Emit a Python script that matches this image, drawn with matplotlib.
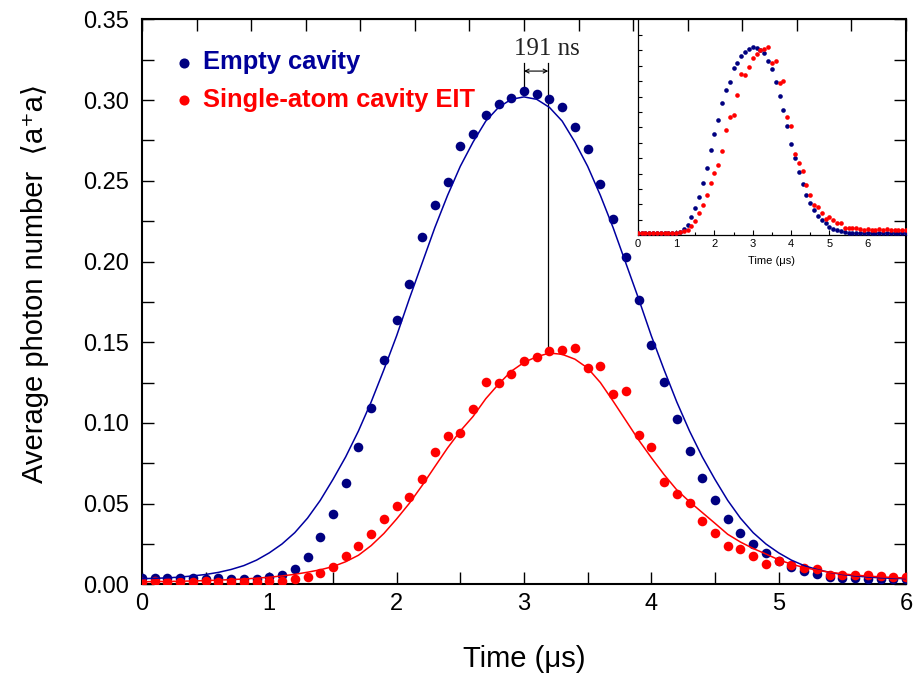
import numpy as np
import matplotlib
matplotlib.use("Agg")
import matplotlib.pyplot as plt
from matplotlib.ticker import MultipleLocator, FormatStrFormatter

plt.rcParams['font.family'] = ['Liberation Sans', 'DejaVu Sans']

# measured photon number, 100 ns bins
time = np.round(np.arange(0, 7.05, 0.1), 1)
empty_pts = np.array([
    0.0040, 0.0038, 0.0040, 0.0037, 0.0038, 0.0036, 0.0037, 0.0035, 0.0036, 0.0036,
    0.0045, 0.0060, 0.0098, 0.0172, 0.0295, 0.0436, 0.0626, 0.0851, 0.1090, 0.1390,
    0.1636, 0.1860, 0.2150, 0.2350, 0.2490, 0.2716, 0.2790, 0.2906, 0.2976, 0.3015,
    0.3054, 0.3036, 0.3007, 0.2959, 0.2831, 0.2700, 0.2480, 0.2263, 0.2030, 0.1763,
    0.1483, 0.1255, 0.1022, 0.0826, 0.0659, 0.0522, 0.0405, 0.0316, 0.0248, 0.0194,
    0.0142, 0.0109, 0.0080, 0.0062, 0.0047, 0.0041, 0.0037, 0.0036, 0.0035, 0.0035,
    0.0034, 0.0035, 0.0033, 0.0034, 0.0035, 0.0033, 0.0034, 0.0035, 0.0034, 0.0033, 0.0034])
eit_pts = np.array([
    0.0015, 0.0018, 0.0015, 0.0017, 0.0016, 0.0018, 0.0016, 0.0017, 0.0016, 0.0017,
    0.0018, 0.0022, 0.0030, 0.0044, 0.0072, 0.0108, 0.0173, 0.0237, 0.0310, 0.0407,
    0.0485, 0.0543, 0.0652, 0.0820, 0.0917, 0.0937, 0.1089, 0.1256, 0.1247, 0.1306,
    0.1382, 0.1408, 0.1443, 0.1450, 0.1466, 0.1338, 0.1352, 0.1181, 0.1196, 0.0923,
    0.0851, 0.0632, 0.0561, 0.0504, 0.0391, 0.0316, 0.0237, 0.0219, 0.0175, 0.0127,
    0.0142, 0.0122, 0.0099, 0.0093, 0.0060, 0.0060, 0.0058, 0.0058, 0.0051, 0.0043,
    0.0047, 0.0045, 0.0040, 0.0048, 0.0044, 0.0047, 0.0043, 0.0041, 0.0045, 0.0042, 0.0044])

# simulated curves
fit_time = np.round(np.arange(0, 6.05, 0.1), 1)
empty_fit = np.array([
    0.0035, 0.0037, 0.0040, 0.0045, 0.0052, 0.0061, 0.0074, 0.0092, 0.0116, 0.0150,
    0.0195, 0.0250, 0.0320, 0.0410, 0.0520, 0.0650, 0.0790, 0.0950, 0.1130, 0.1330,
    0.1540, 0.1770, 0.1990, 0.2210, 0.2410, 0.2590, 0.2740, 0.2870, 0.2955, 0.3005,
    0.3020, 0.3005, 0.2955, 0.2870, 0.2740, 0.2590, 0.2410, 0.2210, 0.1990, 0.1770,
    0.1540, 0.1330, 0.1130, 0.0950, 0.0790, 0.0650, 0.0520, 0.0410, 0.0320, 0.0250,
    0.0195, 0.0150, 0.0116, 0.0092, 0.0074, 0.0061, 0.0052, 0.0045, 0.0040, 0.0037, 0.0035])
eit_fit = np.array([
    0.0016, 0.0017, 0.0018, 0.0019, 0.0021, 0.0023, 0.0026, 0.0029, 0.0033, 0.0038,
    0.0044, 0.0052, 0.0062, 0.0075, 0.0090, 0.0110, 0.0140, 0.0180, 0.0240, 0.0315,
    0.0405, 0.0502, 0.0612, 0.0729, 0.0845, 0.0950, 0.1040, 0.1150, 0.1240, 0.1320,
    0.1375, 0.1410, 0.1433, 0.1425, 0.1395, 0.1340, 0.1250, 0.1135, 0.1015, 0.0895,
    0.0785, 0.0680, 0.0585, 0.0512, 0.0445, 0.0378, 0.0310, 0.0262, 0.0222, 0.0188,
    0.0152, 0.0125, 0.0104, 0.0088, 0.0075, 0.0065, 0.0057, 0.0051, 0.0046, 0.0042, 0.0039])

delay_ns = 191
labels = ['Empty cavity', 'Single-atom cavity EIT']

navy = '#000080'
blue_line = '#0000a0'
blue_text = '#00009a'
red = '#ff0000'

fig = plt.figure(figsize=(9.13, 6.77), dpi=100)
ax = fig.add_axes([0.1555, 0.1369, 0.8368, 0.8344])

ax.scatter(time, empty_pts, s=48, color=navy, lw=0, zorder=3, label=labels[0])
ax.scatter(time, eit_pts, s=48, color=red, lw=0, zorder=4, label=labels[1])
ax.plot(fit_time, empty_fit, color=blue_line, lw=1.1, zorder=5)
ax.plot(fit_time, eit_fit, color=red, lw=1.1, zorder=5)

# peak delay marker
t_blue = fit_time[np.argmax(empty_fit)]
t_red = t_blue + delay_ns / 1000.0
y_top = 0.323
ax.plot([t_blue, t_blue], [empty_pts.max(), y_top], color='k', lw=0.9, zorder=2)
ax.plot([t_red, t_red], [eit_fit.max(), y_top], color='k', lw=0.9, zorder=2)
ax.annotate('', xy=(t_blue, 0.318), xytext=(t_red, 0.318),
            arrowprops=dict(arrowstyle='<->', color='k', lw=0.8,
                            shrinkA=0, shrinkB=0, mutation_scale=7))
ax.text(3.18, 0.328, f'{delay_ns} ns', family=['Liberation Serif', 'DejaVu Serif'],
        fontsize=18, ha='center', va='baseline', color='#222222')

ax.set_xlim(0, 6)
ax.set_ylim(0, 0.35)
ax.xaxis.set_major_locator(MultipleLocator(1))
ax.xaxis.set_minor_locator(MultipleLocator(0.5))
ax.yaxis.set_major_locator(MultipleLocator(0.05))
ax.yaxis.set_minor_locator(MultipleLocator(0.025))
ax.yaxis.set_major_formatter(FormatStrFormatter('%.2f'))
ax.tick_params(which='both', direction='in', length=8.6, width=1.0,
               right=True, top=False, labelsize=17)
ax.tick_params(axis='y', pad=9)
ax.tick_params(axis='x', pad=6.5)
for s in ax.spines.values():
    s.set_linewidth(1.5)

top = ax.secondary_xaxis('top', functions=(lambda x: x * 7 / 6, lambda x: x * 6 / 7))
top.xaxis.set_major_locator(MultipleLocator(0.5))
top.tick_params(direction='in', length=8.6, width=1.0, labeltop=False)

ax.set_xlabel('Time (μs)', fontsize=21, labelpad=21)
ax.set_ylabel('Average photon number  \u27e8a\u207aa\u27e9', fontsize=21)
ax.yaxis.set_label_coords(-0.122, 0.532)

ax.legend(loc='upper left', bbox_to_anchor=(0.0414, 0.945), frameon=False,
          prop=dict(weight='bold', size=18.4), handlelength=0.8, handletextpad=0.34,
          labelspacing=0.52, borderpad=0, borderaxespad=0, markerscale=1.05,
          labelcolor=[blue_text, red])

# inset: peak-normalised traces over the full record
axin = fig.add_axes([0.6986, 0.6524, 0.2938, 0.3189])
axin.patch.set_alpha(0)
axin.scatter(time, empty_pts / empty_pts.max(), s=11, color=navy, lw=0, zorder=3)
axin.scatter(time, eit_pts / eit_pts.max(), s=11, color=red, lw=0, zorder=4)
axin.set_xlim(0, 7)
axin.set_ylim(0, 1.145)
axin.set_xticks(np.arange(0, 7))
axin.xaxis.set_minor_locator(MultipleLocator(0.5))
axin.set_yticks(np.linspace(0, 1.145, 15)[1:-1])
axin.set_yticklabels([])
axin.tick_params(which='major', direction='in', length=3.5, width=0.8, labelsize=8, pad=2.5)
axin.tick_params(which='minor', direction='in', length=2, width=0.8)
axin.tick_params(axis='y', length=3)
axin.spines['top'].set_visible(False)
axin.spines['right'].set_visible(False)
for side in ('left', 'bottom'):
    axin.spines[side].set_linewidth(0.9)
axin.set_xlabel('Time (μs)', fontsize=8, labelpad=5)

fig.savefig('out.png', dpi=100)
